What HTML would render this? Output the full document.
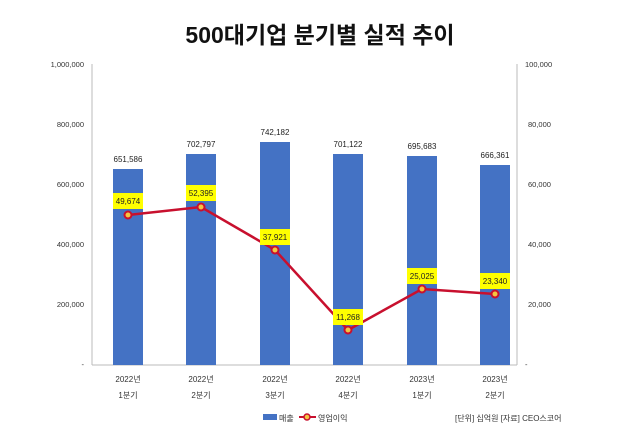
<!DOCTYPE html>
<html><head><meta charset="utf-8"><style>
body{margin:0;background:#fff;}
svg text{font-family:"Liberation Sans","Noto Sans CJK KR",sans-serif;}
</style></head><body>
<svg width="640" height="427" viewBox="0 0 640 427">
<text x="320" y="43" text-anchor="middle" font-size="23" font-weight="bold" fill="#111">500대기업 분기별 실적 추이</text>
<g stroke="#bbb" stroke-width="1">
<line x1="92" y1="64" x2="92" y2="365"/>
<line x1="517" y1="64" x2="517" y2="365"/>
<line x1="92" y1="365" x2="517" y2="365"/>
</g>
<g font-size="7.5" fill="#333" text-anchor="end">
<text x="84" y="67">1,000,000</text>
<text x="84" y="127">800,000</text>
<text x="84" y="187">600,000</text>
<text x="84" y="247">400,000</text>
<text x="84" y="307">200,000</text>
<text x="84" y="367">-</text>
</g>
<g font-size="7.5" fill="#333" text-anchor="start">
<text x="525" y="67">100,000</text>
<text x="528" y="127">80,000</text>
<text x="528" y="187">60,000</text>
<text x="528" y="247">40,000</text>
<text x="528" y="307">20,000</text>
<text x="525" y="367">-</text>
</g>
<g fill="#4472c4">
<rect x="113" y="169" width="30" height="196"/>
<rect x="186" y="154" width="30" height="211"/>
<rect x="260" y="142" width="30" height="223"/>
<rect x="333" y="154" width="30" height="211"/>
<rect x="407" y="156" width="30" height="209"/>
<rect x="480" y="165" width="30" height="200"/>
</g>
<g font-size="8" fill="#222" text-anchor="middle">
<text x="128" y="162">651,586</text>
<text x="201" y="147">702,797</text>
<text x="275" y="135">742,182</text>
<text x="348" y="147">701,122</text>
<text x="422" y="149">695,683</text>
<text x="495" y="158">666,361</text>
</g>
<polyline points="128,215 201,207 275,250 348,330 422,289 495,294" fill="none" stroke="#c8102e" stroke-width="2.5"/>
<g fill="#f5c542" stroke="#c8102e" stroke-width="2">
<circle cx="128" cy="215" r="3.5"/><circle cx="201" cy="207" r="3.5"/><circle cx="275" cy="250" r="3.5"/>
<circle cx="348" cy="330" r="3.5"/><circle cx="422" cy="289" r="3.5"/><circle cx="495" cy="294" r="3.5"/>
</g>
<g fill="#ffff00">
<rect x="113" y="193" width="30" height="16"/>
<rect x="186" y="185" width="30" height="16"/>
<rect x="260" y="229" width="30" height="16"/>
<rect x="333" y="309" width="30" height="16"/>
<rect x="407" y="268" width="30" height="16"/>
<rect x="480" y="273" width="30" height="16"/>
</g>
<g font-size="8" fill="#222" text-anchor="middle">
<text x="128" y="204">49,674</text>
<text x="201" y="196">52,395</text>
<text x="275" y="240">37,921</text>
<text x="348" y="320">11,268</text>
<text x="422" y="279">25,025</text>
<text x="495" y="284">23,340</text>
</g>
<g font-size="8" fill="#333" text-anchor="middle">
<text x="128" y="382">2022년</text><text x="128" y="398">1분기</text>
<text x="201" y="382">2022년</text><text x="201" y="398">2분기</text>
<text x="275" y="382">2022년</text><text x="275" y="398">3분기</text>
<text x="348" y="382">2022년</text><text x="348" y="398">4분기</text>
<text x="422" y="382">2023년</text><text x="422" y="398">1분기</text>
<text x="495" y="382">2023년</text><text x="495" y="398">2분기</text>
</g>
<rect x="263" y="414" width="14" height="6" fill="#4472c4"/>
<text x="279" y="421" font-size="8" fill="#333">매출</text>
<line x1="299" y1="417" x2="316" y2="417" stroke="#c8102e" stroke-width="2"/>
<circle cx="307" cy="417" r="3" fill="#f5c542" stroke="#c8102e" stroke-width="1.5"/>
<text x="318" y="421" font-size="8" fill="#333">영업이익</text>
<text x="455" y="421" font-size="8" fill="#333">[단위] 십억원 [자료] CEO스코어</text>
</svg>
</body></html>
